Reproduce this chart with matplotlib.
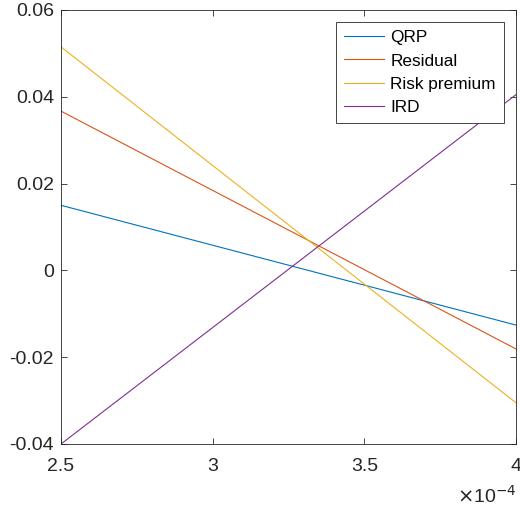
import matplotlib as mpl
mpl.use('Agg')
import matplotlib.pyplot as plt
from matplotlib.ticker import FixedLocator, FuncFormatter

plt.rcParams['font.family'] = ['Liberation Sans', 'DejaVu Sans']
plt.rcParams['axes.unicode_minus'] = False

# x range (endpoints) and series values at those endpoints
x = [2.5e-4, 4.0e-4]
qrp = [0.0150, -0.0126]
residual = [0.0367, -0.0181]
risk_premium = [0.0515, -0.0305]
ird = [-0.0400, 0.0405]

labels = ['QRP', 'Residual', 'Risk premium', 'IRD']
colors = ['#0072BD', '#D95319', '#EDB120', '#7E2F8E']

fig = plt.figure(figsize=(5.2, 5.12), dpi=100)
ax = fig.add_axes([61 / 520, 1 - 444 / 512, 455 / 520, 434 / 512])

for ys, lab, c in zip([qrp, residual, risk_premium, ird], labels, colors):
    ax.plot(x, ys, color=c, linewidth=0.8, label=lab)

ax.set_xlim(2.5e-4, 4.0e-4)
ax.set_ylim(-0.04, 0.06)
ax.xaxis.set_major_locator(FixedLocator([2.5e-4, 3e-4, 3.5e-4, 4e-4]))
ax.xaxis.set_major_formatter(FuncFormatter(lambda v, p: '%g' % round(v * 1e4, 3)))
ax.yaxis.set_major_locator(FixedLocator([-0.04, -0.02, 0, 0.02, 0.04, 0.06]))
ax.yaxis.set_major_formatter(FuncFormatter(lambda v, p: '%g' % round(v, 3)))

ax.tick_params(direction='in', length=4, width=0.6, colors='#262626',
               labelsize=14, top=True, right=True)
ax.tick_params(axis='y', pad=5)
ax.tick_params(axis='x', pad=10)
for s in ax.spines.values():
    s.set_color('#262626')
    s.set_linewidth(0.6)

ax.text(1.0, -0.095, r'$\times$10$^{-4}$', transform=ax.transAxes,
        ha='right', va='top', fontsize=14, color='#262626')

leg = ax.legend(loc='upper right', fontsize=12.4, frameon=True, fancybox=False,
                edgecolor='#262626', framealpha=1, handlelength=2.35,
                handletextpad=0.35, borderpad=0.45, labelspacing=0.48,
                borderaxespad=0.72)
leg.get_frame().set_linewidth(0.6)

fig.savefig('out.png', dpi=100)
plt.close()
